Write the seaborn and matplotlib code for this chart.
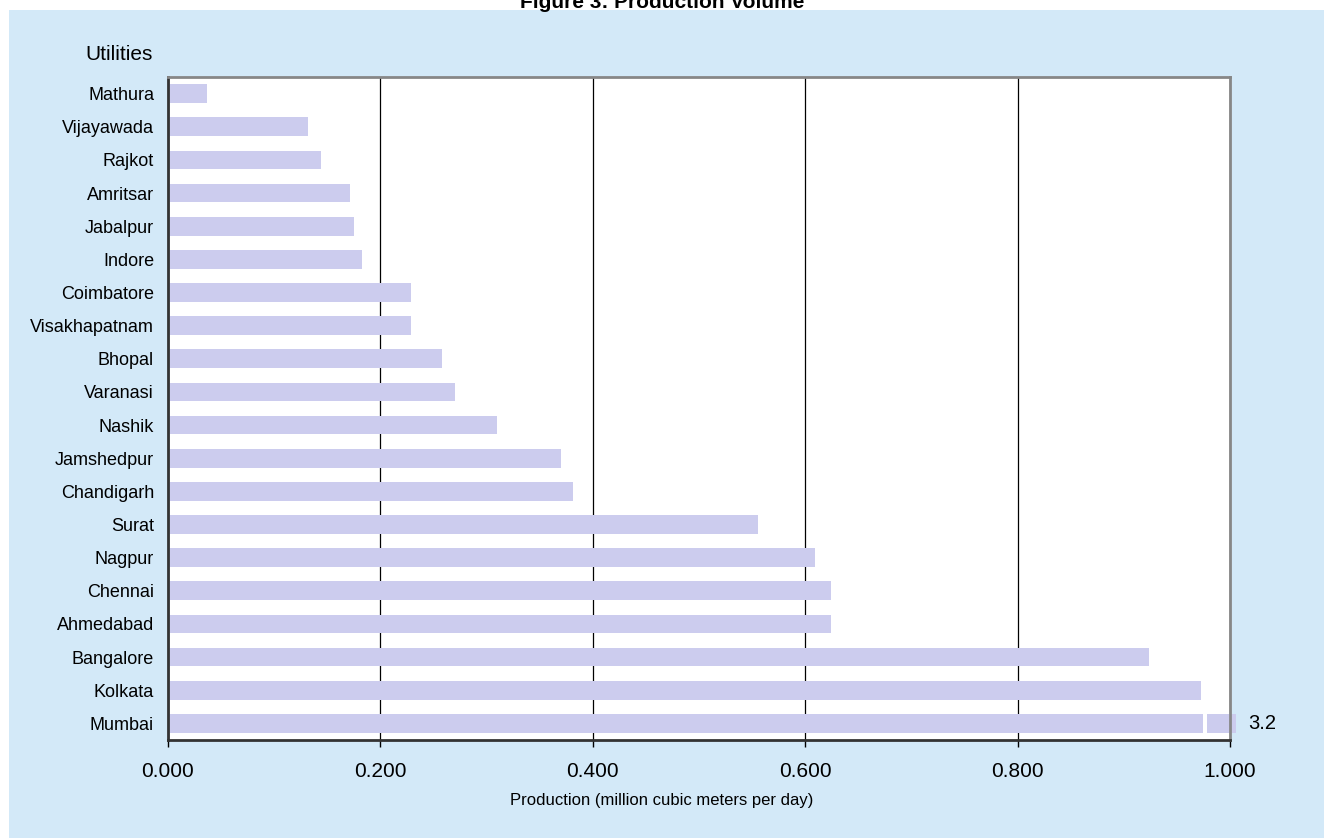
"""Figure 3: Production Volume -- horizontal bar chart of utilities."""
import matplotlib

matplotlib.use("Agg")
import matplotlib.pyplot as plt  # noqa: E402
import pandas as pd  # noqa: E402
import seaborn as sns  # noqa: E402
from matplotlib.patches import Rectangle  # noqa: E402

UTILITIES = [
    "Mathura", "Vijayawada", "Rajkot", "Amritsar", "Jabalpur", "Indore",
    "Coimbatore", "Visakhapatnam", "Bhopal", "Varanasi", "Nashik",
    "Jamshedpur", "Chandigarh", "Surat", "Nagpur", "Chennai", "Ahmedabad",
    "Bangalore", "Kolkata", "Mumbai",
]
PRODUCTION = [
    0.037, 0.132, 0.144, 0.171, 0.175, 0.183,
    0.229, 0.229, 0.258, 0.270, 0.310,
    0.370, 0.381, 0.556, 0.609, 0.624, 0.624,
    0.924, 0.973, 3.2,
]
X_TICKS = [0.0, 0.2, 0.4, 0.6, 0.8, 1.0]

AXIS_MAX = 1.0
BAR_STUB = 1.006   # a bar past the axis is cut and drawn to here
BREAK_AT = 0.975   # white break drawn across a cut bar
BAR_COLOR = "#CCCCEE"
PANEL_COLOR = "#D3E9F8"

sns.set_style("white")
plt.rcParams["font.family"] = ["Liberation Sans", "DejaVu Sans"]
plt.rcParams.update({"text.color": "black", "xtick.color": "black",
                     "ytick.color": "black", "axes.labelcolor": "black"})

df = pd.DataFrame({"utility": UTILITIES, "production": PRODUCTION})
df["shown"] = df["production"].clip(upper=BAR_STUB)

fig = plt.figure(figsize=(13.24, 8.38), dpi=100, facecolor="white")
W, H = 1324, 838
fig.patches.append(Rectangle((9 / W, 0), 1, 1 - 10 / H, transform=fig.transFigure,
                             facecolor=PANEL_COLOR, edgecolor="none", zorder=-1))

ax = fig.add_axes([168 / W, 1 - 740 / H, (1230 - 168) / W, (740 - 77) / H])
ax.set_facecolor("white")
ax.set_zorder(2)

bar_w = 0.565
sns.barplot(data=df, x="shown", y="utility", orient="h", color=BAR_COLOR,
            saturation=1, width=bar_w, linewidth=0, ax=ax, zorder=2)

ax.set_xlim(0, AXIS_MAX)
ax.set_xticks(X_TICKS)
ax.set_xticklabels([f"{t:.3f}" for t in X_TICKS])
ax.xaxis.grid(True, color="black", linewidth=0.9)
ax.yaxis.grid(False)
ax.set_axisbelow(True)
ax.set_xlabel("")
ax.set_ylabel("")

ax.tick_params(axis="x", direction="out", length=5, width=1, color="black",
               labelsize=15, pad=11, bottom=True)
ax.tick_params(axis="y", length=0, labelsize=13, pad=10)

for side in ("top", "right"):
    ax.spines[side].set_color("#878787")
    ax.spines[side].set_linewidth(2)
for side in ("left", "bottom"):
    ax.spines[side].set_color("#333333")
    ax.spines[side].set_linewidth(2)

# bars beyond the axis: let them run over the edge, break them, label the value
for i, (bar, val) in enumerate(zip(ax.patches, df["production"])):
    if val > AXIS_MAX:
        bar.set_clip_on(False)
        ax.add_patch(Rectangle((BREAK_AT, i - bar_w / 2 - 0.02), 0.0038, bar_w + 0.04,
                               facecolor="white", edgecolor="none", zorder=3))
        ax.text(1.017, i, f"{val:g}", ha="left", va="center", fontsize=14.5,
                clip_on=False)

fig.text(0.5, 1 - 8 / H, "Figure 3: Production Volume", ha="center",
         va="baseline", fontsize=15, fontweight="bold")
fig.text(153 / W, 1 - 55 / H, "Utilities", ha="right", va="center", fontsize=15)
fig.text(0.5, 1 - 800 / H, "Production (million cubic meters per day)",
         ha="center", va="center", fontsize=12)

fig.savefig("out.png", dpi=100)
